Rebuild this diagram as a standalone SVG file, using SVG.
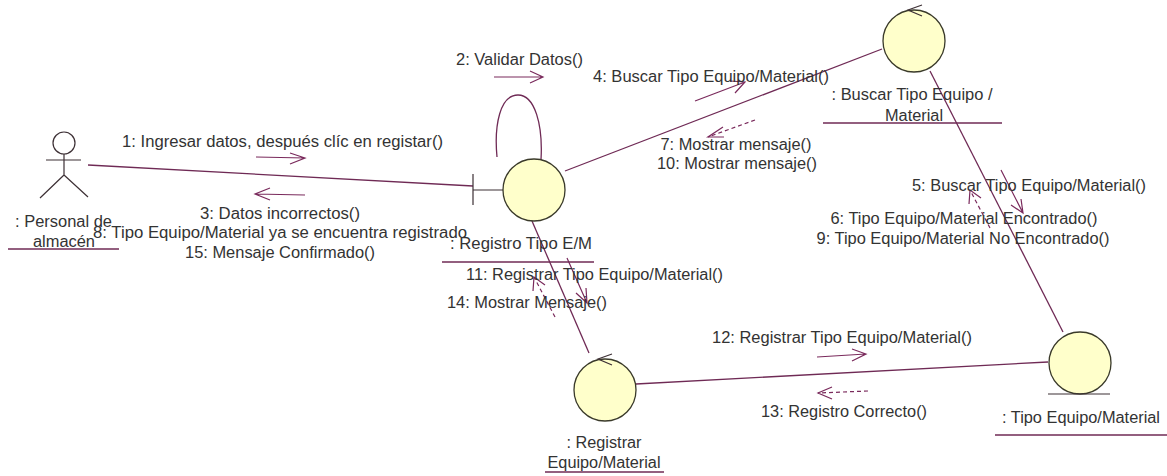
<svg xmlns="http://www.w3.org/2000/svg" width="1167" height="476" viewBox="0 0 1167 476">
<style>
text{font-family:"Liberation Sans",Arial,sans-serif;font-size:16px;fill:#333;text-anchor:middle}
.c{fill:#ffffcb;stroke:#3a3a2a;stroke-width:1.3}
.l{fill:none;stroke:#6f2a55;stroke-width:1.3}
.k{fill:none;stroke:#3d3035;stroke-width:1.2}
.u{stroke:#6f2a55;stroke-width:1.3}
.m{fill:none;stroke:#7a2a5c;stroke-width:1.2}
.d{stroke-dasharray:4 3}
</style>
<rect width="1167" height="476" fill="#fff"/>
<g id="connectors">
<path class="l" d="M88 165L473 186"/>
<path class="l" d="M497 157C494 125 500 95 518 95C535 95 543 125 541 160"/>
<path class="l" d="M565 171L882 49"/>
<path class="l" d="M930 71L1063 332"/>
<path class="l" d="M532 221L589 353"/>
<path class="l" d="M636 384L1048 362"/>
</g>
<g id="messages">
<path class="m" d="M256 157L305 158M290 153L305 158L290 164"/>
<path class="m" d="M305 195L255 194M270 188L255 194L270 200"/>
<path class="m" d="M494 77L543 77M530 71L543 77L530 83"/>
<path class="m" d="M695 101L745 82M730 81L745 82L735 93"/>
<path class="m d" d="M755 120L708 137"/><path class="m" d="M723 127L708 137L724 137"/>
<path class="m" d="M1001 170L1023 213M1021 199L1023 213L1011 205"/>
<path class="m d" d="M990 228L970 190"/><path class="m" d="M969 204L970 190L981 198"/>
<path class="m" d="M567 258L587 303M586 288L587 303L576 293"/>
<path class="m d" d="M555 317L534 277"/><path class="m" d="M533 291L534 277L545 285"/>
<path class="m" d="M817 357L866 354M852 349L866 354L852 361"/>
<path class="m d" d="M868 391L818 393"/><path class="m" d="M832 387L818 393L832 399"/>
</g>
<g id="actor">
<circle cx="64" cy="143" r="11" fill="#fff" stroke="#3d3035" stroke-width="1.2"/>
<path class="k" d="M46 160H81M64 154V175M64 175L40 198M64 175L88 197"/>
<text x="63.5" y="227" textLength="97" lengthAdjust="spacingAndGlyphs">: Personal de</text><text x="64" y="247" textLength="62" lengthAdjust="spacingAndGlyphs">almacén</text>
<path class="u" d="M8 249H119"/>
</g>
<g id="registro">
<path class="k" d="M473 174V205M473 190H504"/>
<circle class="c" cx="534" cy="190" r="31"/>
<text x="521" y="249" textLength="142" lengthAdjust="spacingAndGlyphs">: Registro Tipo E/M</text>
<path class="u" d="M442 262H594"/>
</g>
<g id="buscar">
<circle class="c" cx="914" cy="41" r="31"/>
<path class="k" d="M922 5L908 10L922 16"/>
<text x="912" y="100" textLength="161" lengthAdjust="spacingAndGlyphs">: Buscar Tipo Equipo /</text><text x="914" y="121" textLength="58" lengthAdjust="spacingAndGlyphs">Material</text>
<path class="u" d="M823 123H1002"/>
</g>
<g id="registrar">
<circle class="c" cx="605" cy="390" r="31"/>
<path class="k" d="M612 354L598 359L612 365"/>
<text x="604" y="448" textLength="75" lengthAdjust="spacingAndGlyphs">: Registrar</text><text x="604" y="468" textLength="113" lengthAdjust="spacingAndGlyphs">Equipo/Material</text>
<path class="u" d="M545 472H664"/>
</g>
<g id="tipo">
<circle class="c" cx="1080" cy="363" r="31"/>
<path class="k" d="M1048 394H1110"/>
<text x="1081" y="423" textLength="158" lengthAdjust="spacingAndGlyphs">: Tipo Equipo/Material</text>
<path class="u" d="M995 435H1167"/>
</g>
<g id="labels">
<text x="282.5" y="147" textLength="321" lengthAdjust="spacingAndGlyphs">1: Ingresar datos, después clíc en registar()</text>
<text x="519.5" y="65" textLength="127" lengthAdjust="spacingAndGlyphs">2: Validar Datos()</text>
<text x="711" y="82" textLength="236" lengthAdjust="spacingAndGlyphs">4: Buscar Tipo Equipo/Material()</text>
<text x="736" y="150" textLength="151" lengthAdjust="spacingAndGlyphs">7: Mostrar mensaje()</text>
<text x="737" y="169" textLength="160" lengthAdjust="spacingAndGlyphs">10: Mostrar mensaje()</text>
<text x="280" y="219" textLength="160" lengthAdjust="spacingAndGlyphs">3: Datos incorrectos()</text>
<text x="280" y="238" textLength="374" lengthAdjust="spacingAndGlyphs">8: Tipo Equipo/Material ya se encuentra registrado</text>
<text x="280" y="258" textLength="190" lengthAdjust="spacingAndGlyphs">15: Mensaje Confirmado()</text>
<text x="1029" y="191" textLength="234" lengthAdjust="spacingAndGlyphs">5: Buscar Tipo Equipo/Material()</text>
<text x="964" y="224" textLength="267" lengthAdjust="spacingAndGlyphs">6: Tipo Equipo/Material Encontrado()</text>
<text x="963" y="244" textLength="293" lengthAdjust="spacingAndGlyphs">9: Tipo Equipo/Material No Encontrado()</text>
<text x="594.5" y="280" textLength="257" lengthAdjust="spacingAndGlyphs">11: Registrar Tipo Equipo/Material()</text>
<text x="527" y="308" textLength="160" lengthAdjust="spacingAndGlyphs">14: Mostrar Mensaje()</text>
<text x="842" y="343" textLength="260" lengthAdjust="spacingAndGlyphs">12: Registrar Tipo Equipo/Material()</text>
<text x="844" y="417" textLength="166" lengthAdjust="spacingAndGlyphs">13: Registro Correcto()</text>
</g>
</svg>
